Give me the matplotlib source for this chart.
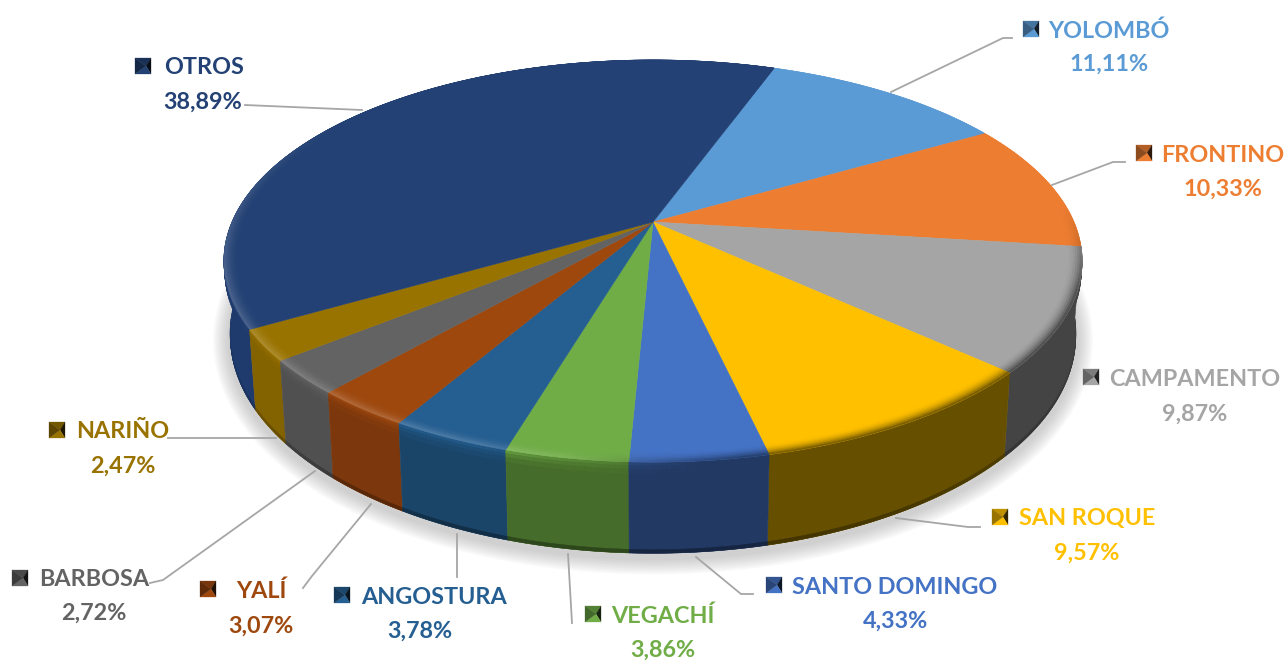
import numpy as np
import matplotlib
matplotlib.use('Agg')
import matplotlib.pyplot as plt
from matplotlib.collections import PolyCollection
from matplotlib.colors import to_rgb

# values, clockwise from the top
names = ['YOLOMBÓ', 'FRONTINO', 'CAMPAMENTO', 'SAN ROQUE', 'SANTO DOMINGO', 'VEGACHÍ',
         'ANGOSTURA', 'YALÍ', 'BARBOSA', 'NARIÑO', 'OTROS']
values = [11.11, 10.33, 9.87, 9.57, 4.33, 3.86, 3.78, 3.07, 2.72, 2.47, 38.89]
colors = ['#5B9BD5', '#ED7D31', '#A5A5A5', '#FFC000', '#4472C4', '#70AD47',
          '#255E91', '#9E480E', '#636363', '#997300', '#234174']
side_colors = ['#3D6E9C', '#A8561F', '#444444', '#665000', '#223963', '#456C2A',
               '#1A4569', '#7C380C', '#505050', '#836200', '#1F3B6E']

# layout, pixels
cx, cy = 653, 222
A, B, K = 421, 193.5, 0.194
START = 19.9
DEPTH, DEPTH_S, WIDTH_S = 72, 1.08, 0.985

name_pos = [(1109, 31), (1223, 156), (1195, 379), (1087, 518), (895, 587), (663, 616),
            (434, 598), (261, 591), (94, 579), (123, 432), (204, 68)]
value_pos = [(1109, 64), (1223, 189), (1195, 414), (1087, 553), (895, 621), (663, 650),
             (420, 631), (261, 626), (94, 613), (123, 466), (203, 102)]
key_pos = [(1031, 29), (1144, 153), (1091, 377), (1000, 517), (774, 585), (593, 614),
           (342, 595), (208, 589), (20, 578), (57, 430), (143, 66)]
leaders = [[(891, 92), (1003, 38), (1012, 38)],
           [(1052, 185), (1113, 162), (1125, 162)],
           None,
           [(896, 518), (968, 527), (980, 527)],
           [(696, 557), (741, 594), (753, 594)],
           [(568, 554), (572, 623)],
           [(457, 534), (457, 577)],
           [(371, 504), (312, 576), (303, 588)],
           [(315, 471), (163, 580), (150, 583)],
           [(276, 438), (168, 438)],
           [(362, 110), (245, 105)]]


def top_xy(th, r=1.0):
    a = np.radians(th)
    u, v = r * np.sin(a), r * np.cos(a)
    w = 1 + K * v
    return cx + A * u / w, cy - B * v / w


def bottom_xy(th):
    a = np.radians(th)
    u, v = np.sin(a), np.cos(a)
    w = 1 + K * v
    return cx + WIDTH_S * A * u / w, cy + DEPTH - DEPTH_S * B * v / w


def blend(c1, c2, t):
    return tuple((1 - t) * np.array(c1) + t * np.array(c2))


def light_amount(th):
    th = th % 360
    if th < 175:
        return 0.0
    return float(np.clip((th - 175) / 25, 0, 1) * np.clip((305 - th) / 50, 0, 1))


def dark_amount(th):
    th = th % 360
    if th > 190:
        return 0.0
    return float(np.clip((th - 85) / 25, 0, 1) * np.clip((190 - th) / 20, 0, 1))


fig = plt.figure(figsize=(12.84, 6.6), dpi=100)
ax = fig.add_axes([0, 0, 1, 1])
ax.set_xlim(0, 1284)
ax.set_ylim(660, 0)
ax.axis('off')

font = 'Lato'
size = 16.8

# soft shadow
t = np.linspace(0, 360, 361)
bx, by = bottom_xy(t)
for lw in np.arange(34, 2, -4):
    ax.plot(bx, by + 4, color='#808080', lw=lw * 0.72, alpha=0.05, solid_joinstyle='round', zorder=1)

sweeps = np.array(values) / sum(values) * 360
starts = START + np.concatenate([[0], np.cumsum(sweeps)[:-1]])

# sides, back ones first; the two slices at the back never show theirs
order = np.argsort(-np.cos(np.radians(starts + sweeps / 2)))
for i in order:
    if starts[i] + sweeps[i] < 100:
        continue
    th = np.linspace(starts[i], starts[i] + sweeps[i], max(int(sweeps[i] * 2), 8))
    x1, y1 = top_xy(th)
    x2, y2 = bottom_xy(th)
    ax.fill(np.r_[x1, x2[::-1]], np.r_[y1, y2[::-1]], color=side_colors[i], lw=0.4, zorder=2)

    # gradients on the side, near its upper and lower edge
    quads, cols = [], []
    top_c, side_c = to_rgb(colors[i]), to_rgb(side_colors[i])
    for a, b in zip(th[:-1], th[1:]):
        for f0, f1, kind in [(0, .04, 0), (.04, .08, 1), (.08, .13, 2), (.96, 1, 3)]:
            xa1, ya1 = top_xy(a)
            xa2, ya2 = bottom_xy(a)
            xb1, yb1 = top_xy(b)
            xb2, yb2 = bottom_xy(b)
            quads.append([(xa1 + f0 * (xa2 - xa1), ya1 + f0 * (ya2 - ya1)),
                          (xb1 + f0 * (xb2 - xb1), yb1 + f0 * (yb2 - yb1)),
                          (xb1 + f1 * (xb2 - xb1), yb1 + f1 * (yb2 - yb1)),
                          (xa1 + f1 * (xa2 - xa1), ya1 + f1 * (ya2 - ya1))])
            m = (a + b) / 2
            if kind == 3:
                cols.append(blend(side_c, (0, 0, 0), 0.35 * max(0, -np.cos(np.radians(m)))))
            else:
                mix = [0.75, 0.4, 0.15][kind] * light_amount(m)
                cols.append(blend(side_c, top_c, mix))
    ax.add_collection(PolyCollection(quads, facecolors=cols, edgecolors=cols, linewidths=0.3, zorder=3))

# top face
for i in range(len(values)):
    th = np.linspace(starts[i], starts[i] + sweeps[i], max(int(sweeps[i] * 2), 8))
    x1, y1 = top_xy(th)
    ax.fill(np.r_[cx, x1], np.r_[cy, y1], color=colors[i], lw=0.4, zorder=4)

    # bevel along the rim
    quads, cols = [], []
    top_c, side_c = to_rgb(colors[i]), to_rgb(side_colors[i])
    rows = np.linspace(0.965, 1, 8)
    for a, b in zip(th[:-1], th[1:]):
        m = (a + b) / 2
        for r0, r1 in zip(rows[:-1], rows[1:]):
            s = (r0 + r1 - 2 * rows[0]) / 2 / (1 - rows[0])
            xa0, ya0 = top_xy(a, r0)
            xb0, yb0 = top_xy(b, r0)
            xa1, ya1 = top_xy(a, r1)
            xb1, yb1 = top_xy(b, r1)
            quads.append([(xa0, ya0), (xb0, yb0), (xb1, yb1), (xa1, ya1)])
            c = blend(top_c, (1, 1, 1), 0.2 * light_amount(m) * s ** 2)
            c = blend(c, side_c, dark_amount(m) * s ** 2)
            cols.append(c)
    ax.add_collection(PolyCollection(quads, facecolors=cols, edgecolors=cols, linewidths=0.3, zorder=5))

# leader lines
for pts in leaders:
    if pts is None:
        continue
    ax.plot([p[0] for p in pts], [p[1] for p in pts], color='#A6A6A6', lw=1.3, zorder=6)

# labels with the pyramid legend key
K_R = 8
for i in range(len(values)):
    c = to_rgb(colors[i])
    kx, ky = key_pos[i]
    nw, ne, se, sw = (kx - K_R, ky - K_R), (kx + K_R, ky - K_R), (kx + K_R, ky + K_R), (kx - K_R, ky + K_R)
    mid = (kx + 3, ky)
    shades = [(nw, ne, 0.75), (ne, se, 0.2), (se, sw, 1.0), (sw, nw, 0.6)]
    for p, q, s in shades:
        ax.fill([p[0], q[0], mid[0]], [p[1], q[1], mid[1]], color=blend((0, 0, 0), c, s), lw=0.2, zorder=7)
    ax.text(name_pos[i][0], name_pos[i][1], names[i], color=colors[i], family=font, weight='bold',
            fontsize=size, ha='center', va='center', zorder=7)
    ax.text(value_pos[i][0], value_pos[i][1], ('%.2f%%' % values[i]).replace('.', ','), color=colors[i],
            family=font, weight='bold', fontsize=size, ha='center', va='center', zorder=7)

fig.savefig('out.png', dpi=100)
